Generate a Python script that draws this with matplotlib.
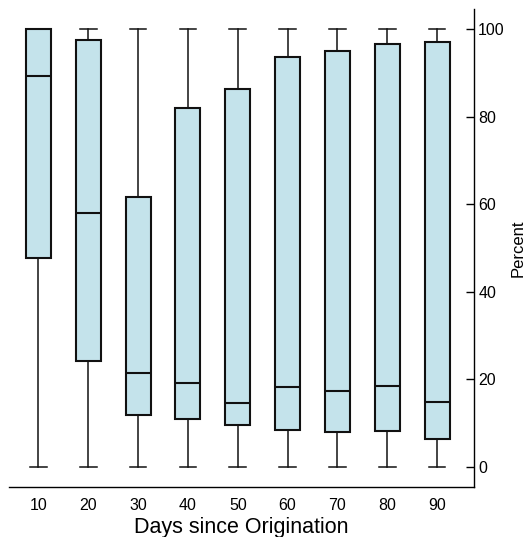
import matplotlib
matplotlib.use("Agg")
import matplotlib.pyplot as plt

plt.rcParams['font.family'] = ['Liberation Sans', 'DejaVu Sans']

## Data (percent)
days = [10, 20, 30, 40, 50, 60, 70, 80, 90]
whisLo = [0, 0, 0, 0, 0, 0, 0, 0, 0]
q1 = [47.8, 24.2, 11.8, 10.9, 9.6, 8.5, 8.0, 8.2, 6.3]
med = [89.3, 57.9, 21.5, 19.1, 14.6, 18.2, 17.2, 18.5, 14.8]
q3 = [100, 97.6, 61.6, 82.0, 86.3, 93.6, 95.1, 96.6, 97.1]
whisHi = [100, 100, 100, 100, 100, 100, 100, 100, 100]

stats = []
for i in range(len(days)):
    stats.append({"whislo": whisLo[i], "q1": q1[i], "med": med[i],
                  "q3": q3[i], "whishi": whisHi[i], "fliers": [],
                  "label": str(days[i])})

fig = plt.figure(figsize=(5.29, 5.37), dpi=100)
ax = fig.add_axes([0.017, 0.093, 0.879, 0.890])

ax.bxp(stats, positions=range(1, len(days) + 1), widths=0.5,
       patch_artist=True, showfliers=False,
       boxprops=dict(facecolor="#c4e3eb", edgecolor="#111111", linewidth=1.5),
       medianprops=dict(color="#111111", linewidth=1.5),
       whiskerprops=dict(color="#111111", linewidth=1.1),
       capprops=dict(color="#111111", linewidth=1.1),
       capwidths=0.335)

ax.set_xlim(0.41, 9.74)
ax.set_ylim(-4.64, 104.57)

ax.spines['left'].set_visible(False)
ax.spines['top'].set_visible(False)
ax.spines['right'].set_linewidth(1.0)
ax.spines['bottom'].set_linewidth(1.0)

ax.yaxis.tick_right()
ax.yaxis.set_label_position("right")
ax.set_yticks([0, 20, 40, 60, 80, 100])
ax.tick_params(axis='y', direction='in', length=5.5, width=1.0, pad=3, labelsize=11.5)
ax.tick_params(axis='x', length=0, pad=8, labelsize=11.5)

ax.set_xlabel("Days since Origination", fontsize=15.5, labelpad=3)
ax.set_ylabel("Percent", fontsize=12, labelpad=4)

fig.savefig("out.png", dpi=100)
plt.close()
